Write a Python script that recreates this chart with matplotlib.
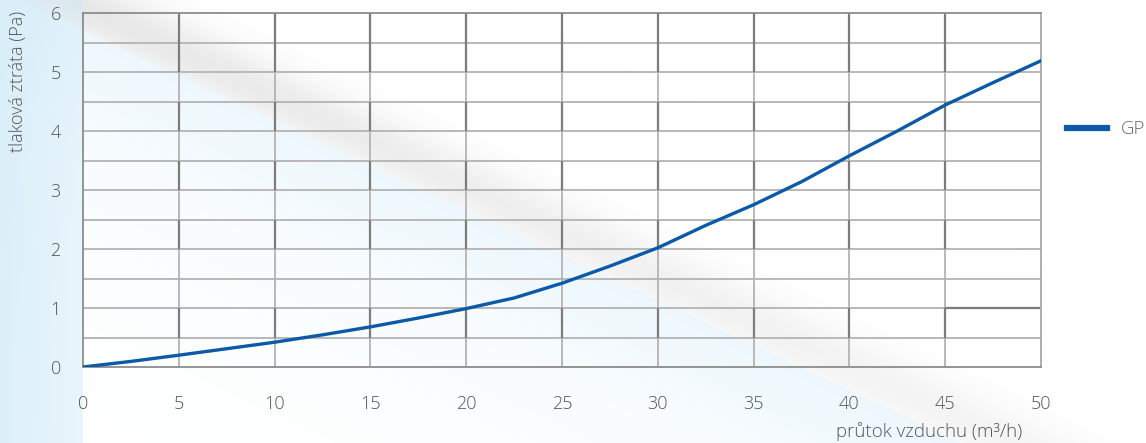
import numpy as np
import matplotlib
matplotlib.use("Agg")
import matplotlib.pyplot as plt
from matplotlib.lines import Line2D

# values
flow = [0, 2.5, 5, 7.5, 10, 12.5, 15, 17.5, 20, 22.5, 25, 27.5, 30, 32.5, 35, 37.5, 40, 42.5, 45, 47.5, 50]
loss = [0, 0.095, 0.2, 0.31, 0.42, 0.545, 0.68, 0.83, 0.99, 1.17, 1.42, 1.71, 2.02, 2.4, 2.75, 3.14, 3.58, 4.0, 4.44, 4.82, 5.19]
x_ticks = [0, 5, 10, 15, 20, 25, 30, 35, 40, 45, 50]
y_ticks = [0, 1, 2, 3, 4, 5, 6]
series_name = "GP"

W, H = 1146, 443
fig = plt.figure(figsize=(W / 100, H / 100), dpi=100)
plt.rcParams['font.family'] = ['Open Sans', 'DejaVu Sans']
txt = dict(fontweight='light', color='#555555')

# decorative background: light blue wash with a soft grey diagonal shadow
yy, xx = np.mgrid[0:H, 0:W].astype(float)
d = (yy - (30 + 0.47 * (xx - 83))) / np.sqrt(1.22)
img = np.ones((H, W, 3))
grey = 0.10 * np.exp(-((d + 22) / 30) ** 2) * (d < 0) * np.exp(-xx / 1100)
img -= grey[..., None]
blue = np.array([0.88, 0.95, 0.99])
wb = 0.6 * np.exp(-np.clip(d, 0, None) / 120) * (d >= 0)
img = img * (1 - wb[..., None]) + blue * wb[..., None]
left = (xx < 83) * (0.45 + 0.3 * (1 - xx / 83))
img = img * (1 - left[..., None]) + np.array([0.82, 0.92, 0.97]) * left[..., None]
bg = fig.add_axes([0, 0, 1, 1], zorder=-1)
bg.imshow(np.clip(img, 0, 1), aspect='auto', extent=[0, 1, 0, 1], origin='upper')
bg.axis('off')

ax = fig.add_axes([83 / W, 1 - 367 / H, 958 / W, 354 / H])
ax.patch.set_alpha(0)
ax.set_xlim(0, 50)
ax.set_ylim(0, 6)

# grid: horizontal every 0.5, vertical every 5 with darker bands
for yv in np.arange(0.5, 6, 0.5):
    ax.axhline(yv, color='#b8b8b8', lw=1.4, zorder=1)
dark_bands = [(5, 6), (4, 4.5), (3, 3.5), (2, 2.5), (0.5, 1)]
for xv in x_ticks[1:-1]:
    ax.vlines(xv, 0, 6, color='#b3b3b3', lw=1.3, zorder=1)
    for y0, y1 in dark_bands:
        ax.vlines(xv, y0, y1, color='#7c7c7c', lw=1.6, zorder=1)
ax.hlines(1, 45, 50, color='#7c7c7c', lw=1.6, zorder=1)

for side in ['left', 'bottom', 'top', 'right']:
    ax.spines[side].set_color('#8c8c8c')
    ax.spines[side].set_linewidth(1.3)
ax.spines['right'].set_color('#a8a8a8')

ax.plot(flow, loss, color='#0a5aa8', lw=2.4, zorder=3)

ax.set_xticks(x_ticks)
ax.set_yticks(y_ticks)
ax.tick_params(length=0, labelsize=13, colors='#555555')
ax.tick_params(axis='x', pad=20)
ax.tick_params(axis='y', pad=16)
for lab in ax.get_xticklabels() + ax.get_yticklabels():
    lab.set_fontweight('light')

fig.text(1022 / W, 1 - 432 / H, "průtok vzduchu (m³/h)", ha='right', va='center',
         fontsize=13.5, **txt)
fig.text(18 / W, 1 - 11 / H, "tlaková ztráta (Pa)", rotation=90, ha='center', va='top',
         fontsize=13, **txt)

# legend
fig.add_artist(Line2D([1067 / W, 1107 / W], [1 - 128 / H] * 2, color='#0a5aa8', lw=4.5))
fig.text(1121 / W, 1 - 129 / H, series_name, ha='left', va='center', fontsize=13.5,
         fontweight='light', color='#666666')

fig.savefig("out.png", dpi=100)
